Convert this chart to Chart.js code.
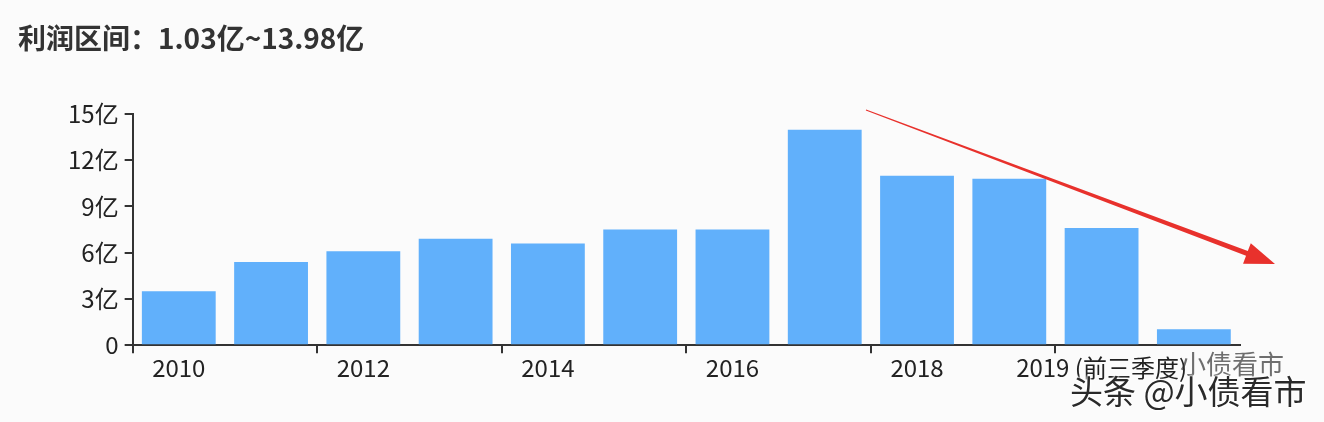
<!DOCTYPE html>
<html>
<head>
<meta charset="utf-8">
<script src="https://cdn.jsdelivr.net/npm/chart.js@4.4.0/dist/chart.umd.min.js"></script>
<style>
    html, body { margin: 0; padding: 0; background: #fbfbfb; }
    #wrap { position: relative; width: 1324px; height: 422px; }
    #title {
        position: absolute; left: 18px; top: 18px;
        font-family: "Noto Sans CJK SC", sans-serif; font-weight: bold;
        font-size: 28px; color: #333; line-height: 38px;
    }
    .mark {
        position: absolute; font-family: "Noto Sans CJK SC", sans-serif;
        white-space: nowrap;
    }
    #mark1 { left: 1180px; top: 344px; font-size: 26px; color: rgba(50,50,50,0.7); }
    #mark2 { left: 1070px; top: 366px; font-size: 33px; color: #2a2a2a;
        text-shadow: 0 0 3px #fff, 0 0 3px #fff, 0 0 2px #fff; }
</style>
</head>
<body>
<div id="wrap">
    <canvas id="profitChart" width="1324" height="422"></canvas>
    <div id="title">利润区间：1.03亿~13.98亿</div>
    <div class="mark" id="mark1">小债看市</div>
    <div class="mark" id="mark2">头条 @小债看市</div>
</div>
<script>
// 净利润（亿元）
const years = ['2010', '2011', '2012', '2013', '2014', '2015', '2016', '2017', '2018', '2019', '2019 (前三季度)', '2020'];
const profits = [3.5, 5.4, 6.1, 6.9, 6.6, 7.5, 7.5, 13.98, 11.0, 10.8, 7.6, 1.03];
const yTicks = [0, 3, 6, 9, 12, 15];

const axisColor = '#333';
const barColor = '#61b0fb';

// red trend arrow drawn over the chart
const arrowPlugin = {
    id: 'trendArrow',
    afterDraw(chart) {
        const ctx = chart.ctx;
        const x1 = 866, y1 = 110, x2 = 1275, y2 = 264;
        const ang = Math.atan2(y2 - y1, x2 - x1);
        const headLen = 30, headW = 11;
        const bx = x2 - headLen * Math.cos(ang), by = y2 - headLen * Math.sin(ang);
        const nx = -Math.sin(ang), ny = Math.cos(ang);
        ctx.save();
        ctx.fillStyle = '#e8312c';
        ctx.beginPath();
        ctx.moveTo(x1 + nx * 0.5, y1 + ny * 0.5);
        ctx.lineTo(bx + nx * 2.5, by + ny * 2.5);
        ctx.lineTo(bx + nx * headW, by + ny * headW);
        ctx.lineTo(x2, y2);
        ctx.lineTo(bx - nx * headW, by - ny * headW);
        ctx.lineTo(bx - nx * 2.5, by - ny * 2.5);
        ctx.lineTo(x1 - nx * 0.5, y1 - ny * 0.5);
        ctx.closePath();
        ctx.fill();
        ctx.restore();
    }
};

new Chart(document.getElementById('profitChart'), {
    type: 'bar',
    data: {
        labels: years,
        datasets: [{
            data: profits,
            backgroundColor: barColor,
            barPercentage: 0.8,
            categoryPercentage: 1.0
        }]
    },
    options: {
        responsive: false,
        animation: false,
        layout: { padding: { top: 114, right: 84, bottom: 40, left: 62 } },
        plugins: {
            legend: { display: false },
            tooltip: { enabled: false }
        },
        scales: {
            x: {
                grid: {
                    offset: true,
                    drawOnChartArea: false,
                    tickLength: 8,
                    lineWidth: 2,
                    color: (c) => (c.type === 'tick' && c.index % 2 === 0) ? axisColor : 'rgba(0,0,0,0)'
                },
                border: { display: true, color: axisColor, width: 2 },
                ticks: {
                    autoSkip: false,
                    maxRotation: 0,
                    color: '#222',
                    padding: 0,
                    font: { family: 'Noto Sans CJK SC', size: 24 },
                    callback: (v, i) => i % 2 === 0 ? years[i] : ''
                }
            },
            y: {
                min: 0,
                max: 15,
                afterBuildTicks: (axis) => { axis.ticks = yTicks.map(v => ({ value: v })); },
                grid: {
                    drawOnChartArea: false,
                    tickLength: 8,
                    lineWidth: 2,
                    color: axisColor
                },
                border: { display: true, color: axisColor, width: 2 },
                ticks: {
                    color: '#222',
                    padding: 6,
                    font: { family: 'Noto Sans CJK SC', size: 24 },
                    callback: (v) => v === 0 ? '0' : v + '亿'
                }
            }
        }
    },
    plugins: [arrowPlugin]
});
</script>
</body>
</html>
